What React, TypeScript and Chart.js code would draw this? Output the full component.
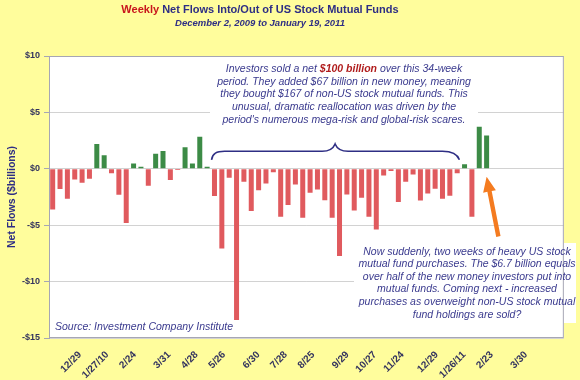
import { useEffect, useRef } from 'react';
import { Chart, registerables } from 'chart.js';

Chart.register(...registerables);

// Weekly categories (Wednesdays) from 12/2/09; bars occupy the first 70 weeks, labels use all
const weeks = [
  '12/2/09', '12/9/09', '12/16/09', '12/23/09', '12/30/09', '1/6/10', '1/13/10', '1/20/10', '1/27/10', '2/3/10',
  '2/10/10', '2/17/10', '2/24/10', '3/3/10', '3/10/10', '3/17/10', '3/24/10', '3/31/10', '4/7/10', '4/14/10',
  '4/21/10', '4/28/10', '5/5/10', '5/12/10', '5/19/10', '5/26/10', '6/2/10', '6/9/10', '6/16/10', '6/23/10',
  '6/30/10', '7/7/10', '7/14/10', '7/21/10', '7/28/10', '8/4/10', '8/11/10', '8/18/10', '8/25/10', '9/1/10',
  '9/8/10', '9/15/10', '9/22/10', '9/29/10', '10/6/10', '10/13/10', '10/20/10', '10/27/10', '11/3/10', '11/10/10',
  '11/17/10', '11/24/10', '12/1/10', '12/8/10', '12/15/10', '12/22/10', '12/29/10', '1/5/11', '1/12/11', '1/19/11',
  '1/26/11', '2/2/11', '2/9/11', '2/16/11', '2/23/11', '3/2/11', '3/9/11', '3/16/11', '3/23/11', '3/30/11',
  '4/6/11', '4/13/11', '4/20/11', '4/27/11', '5/4/11',
];
const barWeekCount = 70;

// Net flows, $ billions (12/2/09 .. 1/19/11)
const netFlows = [
  -3.6, -1.8, -2.65, -0.95, -1.24, -0.89, 2.2, 1.2, -0.4, -2.3,
  -4.8, 0.47, 0.18, -1.5, 1.33, 1.57, -1.0, -0.1, 1.92, 0.47,
  2.84, 0.18, -2.42, -7.06, -0.8, -13.4, -1.15, -3.75, -1.9, -1.3,
  -0.3, -4.25, -3.2, -1.4, -4.34, -2.13, -1.83, -2.78, -4.34, -7.74,
  -2.27, -3.69, -2.57, -4.26, -5.38, -0.59, -0.2, -2.95, -1.15, -0.5,
  -2.8, -2.2, -1.77, -2.66, -2.4, -0.4, 0.4, -4.26, 3.72, 2.95,
];

const tickWeeks = ['12/30/09', '1/27/10', '2/24/10', '3/31/10', '4/28/10', '5/26/10', '6/30/10', '7/28/10',
  '8/25/10', '9/29/10', '10/27/10', '11/24/10', '12/29/10', '1/26/11', '2/23/11', '3/30/11'];
const tickLabels = ['12/29', '1/27/10', '2/24', '3/31', '4/28', '5/26', '6/30', '7/28',
  '8/25', '9/29', '10/27', '11/24', '12/29', '1/26/11', '2/23', '3/30'];
const yTicks = [-15, -10, -5, 0, 5, 10];

const titleRed = 'Weekly';
const titleRest = ' Net Flows Into/Out of US Stock Mutual Funds';
const subtitle = 'December 2, 2009 to January 19, 2011';
const yTitle = 'Net Flows ($billions)';
const sourceText = 'Source: Investment Company Institute';
const noteTop = [
  ['Investors sold a net ', '$100 billion', ' over this 34-week'],
  ['period. They added $67 billion in new money, meaning'],
  ['they bought $167 of non-US stock mutual funds. This'],
  ['unusual, dramatic reallocation was driven by the'],
  ["period's numerous mega-risk and global-risk scares."],
];
const noteBottom = [
  'Now suddenly, two weeks of heavy US stock',
  'mutual fund purchases. The $6.7 billion equals',
  'over half of the new money investors put into',
  'mutual funds. Coming next - increased',
  'purchases as overweight non-US stock mutual',
  'fund holdings are sold?',
];

const FONT = "'Liberation Sans', Arial, Helvetica, sans-serif";
const BG = '#FFFD9C';
const NAVY = '#2E2E84';
const TEXT_NAVY = '#3A3A8E';
const TICK = '#34345E';
const RED_BAR = '#E05A5E';
const GREEN_BAR = '#3C8B46';
const DARK_RED = '#B01C1C';
const ORANGE = '#F47B20';

export default function App() {
  const ref = useRef<HTMLCanvasElement>(null);

  useEffect(() => {
    document.body.style.margin = '0';
    const canvas = ref.current;
    if (!canvas) return;

    const decor = {
      id: 'decor',
      beforeDraw(chart: any) {
        const { ctx, chartArea: a } = chart;
        ctx.save();
        ctx.fillStyle = BG;
        ctx.fillRect(0, 0, chart.width, chart.height);
        ctx.fillStyle = '#ffffff';
        ctx.fillRect(a.left, a.top, a.right - a.left, a.bottom - a.top);
        ctx.restore();
      },
      beforeDatasetsDraw(chart: any) {
        const { ctx } = chart;
        ctx.save();
        ctx.fillStyle = '#ffffff';
        // note boxes hide grid lines behind the text
        ctx.fillRect(210, 58, 268, 70);
        ctx.fillRect(354, 243, 222, 80);
        ctx.restore();
      },
      afterDatasetsDraw(chart: any) {
        const { ctx, chartArea: a } = chart;
        const xs = chart.scales.x;
        const ys = chart.scales.y;
        ctx.save();

        // plot border
        ctx.strokeStyle = '#A6A6B4';
        ctx.lineWidth = 1;
        ctx.strokeRect(a.left + 0.5, a.top + 0.5, a.right - a.left - 1, a.bottom - a.top - 1);

        // brace over the 34-week period
        const x0 = xs.getPixelForValue(21.6);
        const x1 = xs.getPixelForValue(55.3);
        const xm = xs.getPixelForValue(38.4);
        const yEnd = ys.getPixelForValue(0.8);
        const yH = ys.getPixelForValue(1.55);
        const yP = ys.getPixelForValue(2.2);
        ctx.strokeStyle = NAVY;
        ctx.lineWidth = 1.6;
        ctx.beginPath();
        ctx.moveTo(x0, yEnd);
        ctx.bezierCurveTo(x0 + 1, yH + 2, x0 + 5, yH, x0 + 13, yH);
        ctx.lineTo(xm - 13, yH);
        ctx.quadraticCurveTo(xm - 3, yH, xm, yP);
        ctx.quadraticCurveTo(xm + 3, yH, xm + 13, yH);
        ctx.lineTo(x1 - 17, yH);
        ctx.bezierCurveTo(x1 - 7, yH, x1 - 2, yH + 3, x1, yEnd);
        ctx.stroke();

        // orange arrow
        const tx = xs.getPixelForValue(59);
        const ty = ys.getPixelForValue(-0.7);
        const bx = xs.getPixelForValue(60.6);
        const by = ys.getPixelForValue(-6.0);
        const ang = Math.atan2(ty - by, tx - bx);
        const len = Math.hypot(tx - bx, ty - by);
        ctx.translate(bx, by);
        ctx.rotate(ang);
        ctx.fillStyle = ORANGE;
        ctx.beginPath();
        ctx.moveTo(0, -2.2);
        ctx.lineTo(len - 15, -2.2);
        ctx.lineTo(len - 15, -6.5);
        ctx.lineTo(len, 0);
        ctx.lineTo(len - 15, 6.5);
        ctx.lineTo(len - 15, 2.2);
        ctx.lineTo(0, 2.2);
        ctx.closePath();
        ctx.fill();
        ctx.restore();
      },
      afterDraw(chart: any) {
        const { ctx } = chart;
        ctx.save();
        ctx.textBaseline = 'middle';

        // title
        ctx.font = `bold 11px ${FONT}`;
        const w1 = ctx.measureText(titleRed).width;
        const w2 = ctx.measureText(titleRest).width;
        const tx = 260 - (w1 + w2) / 2;
        ctx.textAlign = 'left';
        ctx.fillStyle = '#C8161D';
        ctx.fillText(titleRed, tx, 9.5);
        ctx.fillStyle = NAVY;
        ctx.fillText(titleRest, tx + w1, 9.5);

        ctx.font = `italic bold 9.5px ${FONT}`;
        ctx.textAlign = 'center';
        ctx.fillText(subtitle, 260, 23.5);

        // top note
        const fReg = `italic 10.5px ${FONT}`;
        const fBold = `italic bold 10.5px ${FONT}`;
        noteTop.forEach((segs, i) => {
          const y = 69 + i * 12.75;
          let total = 0;
          const widths = segs.map((s, k) => {
            ctx.font = segs.length > 1 && k === 1 ? fBold : fReg;
            const w = ctx.measureText(s).width;
            total += w;
            return w;
          });
          let x = 344 - total / 2;
          ctx.textAlign = 'left';
          segs.forEach((s, k) => {
            const isHi = segs.length > 1 && k === 1;
            ctx.font = isHi ? fBold : fReg;
            ctx.fillStyle = isHi ? DARK_RED : TEXT_NAVY;
            ctx.fillText(s, x, y);
            x += widths[k];
          });
        });

        // bottom note
        ctx.font = fReg;
        ctx.fillStyle = TEXT_NAVY;
        ctx.textAlign = 'center';
        noteBottom.forEach((line, i) => {
          ctx.fillText(line, 467, 251.7 + i * 12.6);
        });

        // source
        ctx.textAlign = 'left';
        ctx.font = `italic 10.5px ${FONT}`;
        ctx.fillText(sourceText, 55, 327.5);
        ctx.restore();
      },
    };

    const labelFor = (idx: number) => {
      const k = tickWeeks.indexOf(weeks[idx]);
      return k >= 0 ? tickLabels[k] : '';
    };

    const chart = new Chart(canvas, {
      type: 'bar',
      data: {
        labels: weeks.slice(0, barWeekCount),
        datasets: [
          {
            data: netFlows,
            backgroundColor: netFlows.map((v) => (v < 0 ? RED_BAR : GREEN_BAR)),
            categoryPercentage: 1,
            barPercentage: 0.68,
          },
        ],
      },
      options: {
        responsive: false,
        animation: false,
        devicePixelRatio: 1,
        layout: { padding: { top: 56, right: 3, left: 0, bottom: 0 } },
        plugins: { legend: { display: false }, tooltip: { enabled: false }, title: { display: false } },
        scales: {
          x: { display: false, offset: true },
          x2: {
            type: 'category',
            labels: weeks,
            position: 'bottom',
            offset: true,
            grid: { display: false, drawTicks: false },
            border: { display: false },
            ticks: {
              autoSkip: false,
              minRotation: 45,
              maxRotation: 45,
              padding: 11,
              color: TICK,
              font: { family: FONT, size: 10, weight: 'bold' },
              callback: (_v: any, i: number) => labelFor(i),
            },
            afterFit: (s: any) => {
              s.height = 42;
            },
          } as any,
          y: {
            min: -15,
            max: 10,
            afterBuildTicks: (s: any) => {
              s.ticks = yTicks.map((v) => ({ value: v }));
            },
            ticks: {
              padding: 4,
              color: TICK,
              font: { family: FONT, size: 9, weight: 'bold' },
              callback: (v: any) => (Number(v) < 0 ? `-$${Math.abs(Number(v))}` : `$${v}`),
            },
            grid: { color: '#D2D2D2', tickLength: 5, tickColor: '#A6A6B4' },
            border: { color: '#A6A6B4' },
            title: {
              display: true,
              text: yTitle,
              color: NAVY,
              font: { family: FONT, size: 10.5, weight: 'bold' },
              padding: { top: 6, bottom: 0 },
            },
            afterFit: (s: any) => {
              s.width = 49;
            },
          },
        },
      },
      plugins: [decor],
    });
    return () => chart.destroy();
  }, []);

  return (
    <div style={{ width: 580, height: 380 }}>
      <canvas ref={ref} width={580} height={380} style={{ display: 'block' }} />
    </div>
  );
}
